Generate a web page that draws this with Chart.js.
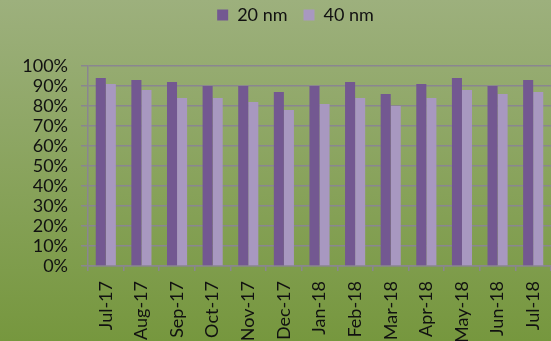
<!DOCTYPE html>
<html>
<head>
<meta charset="utf-8">
<script src="https://cdn.jsdelivr.net/npm/chart.js@4"></script>
<style>
  html, body { margin: 0; padding: 0; overflow: hidden; background: #8aa35e; }
  #wrap { width: 551px; height: 341px; position: relative; }
</style>
</head>
<body>
<div id="wrap"><canvas id="c" width="551" height="341"></canvas></div>
<script>
// Monthly share per particle size
const months = ['Jul-17','Aug-17','Sep-17','Oct-17','Nov-17','Dec-17','Jan-18','Feb-18','Mar-18','Apr-18','May-18','Jun-18','Jul-18'];
const nm20 = [94, 93, 92, 90, 90, 87, 90, 92, 86, 91, 94, 90, 93];
const nm40 = [91, 88, 84, 84, 82, 78, 81, 84, 80, 84, 88, 86, 87];
const seriesNames = ['20 nm', '40 nm'];
const yTicks = [0, 10, 20, 30, 40, 50, 60, 70, 80, 90, 100];

const FONT = 'Lato, "Open Sans", sans-serif';
const GRID = '#8a8690';

Chart.defaults.font.family = FONT;
Chart.defaults.font.size = 18;
Chart.defaults.color = '#111';

// green gradient backdrop behind the whole canvas
const backdrop = {
  id: 'backdrop',
  beforeDraw(chart) {
    const { ctx, width, height } = chart;
    const g = ctx.createLinearGradient(0, 0, 0, height);
    g.addColorStop(0, '#9db07d');
    g.addColorStop(1, '#76973e');
    ctx.save();
    ctx.fillStyle = g;
    ctx.fillRect(0, 0, width, height);
    ctx.restore();
  }
};

// reserve room under the legend and nudge it up and to the right
const legendSpace = {
  id: 'legendSpace',
  beforeInit(chart) {
    const lg = chart.legend;
    const fit = lg.fit;
    lg.fit = function () { fit.call(this); this.height = 66; };
    const draw = lg.draw;
    lg.draw = function () {
      const ctx = this.ctx;
      ctx.save();
      ctx.translate(20, -10);
      draw.apply(this, arguments);
      ctx.restore();
    };
  }
};

new Chart(document.getElementById('c'), {
  type: 'bar',
  data: {
    labels: months,
    datasets: [
      { label: seriesNames[0], data: nm20, backgroundColor: '#735891', borderWidth: 0 },
      { label: seriesNames[1], data: nm40, backgroundColor: '#a898c0', borderWidth: 0 }
    ]
  },
  options: {
    responsive: false,
    animation: false,
    devicePixelRatio: 1,
    layout: { padding: 0 },
    datasets: { bar: { categoryPercentage: 0.565, barPercentage: 1 } },
    plugins: {
      legend: {
        position: 'top',
        labels: {
          boxWidth: 11, boxHeight: 11, padding: 16,
          color: '#111', font: { family: FONT, size: 18 }
        }
      },
      tooltip: { enabled: false }
    },
    scales: {
      x: {
        offset: true,
        grid: { offset: true, drawOnChartArea: false, drawTicks: true, tickLength: 5, color: GRID, lineWidth: 1.5 },
        border: { display: true, color: GRID, width: 1.5 },
        ticks: {
          minRotation: 90, maxRotation: 90, padding: 10, autoSkip: false,
          color: '#111', font: { family: FONT, size: 18 }
        },
        afterFit(s) { s.height = 75; s.paddingLeft = 0; s.paddingRight = 0; }
      },
      y: {
        min: 0, max: 100,
        afterBuildTicks(s) { s.ticks = yTicks.map(v => ({ value: v })); },
        grid: { drawOnChartArea: true, drawTicks: true, tickLength: 7, color: GRID, lineWidth: 1.5 },
        border: { display: true, color: GRID, width: 1.5 },
        ticks: {
          autoSkip: false, padding: 13, color: '#111', font: { family: FONT, size: 18 },
          callback: v => v + '%'
        },
        afterFit(s) { s.width = 88; }
      }
    }
  },
  plugins: [backdrop, legendSpace]
});
</script>
</body>
</html>
